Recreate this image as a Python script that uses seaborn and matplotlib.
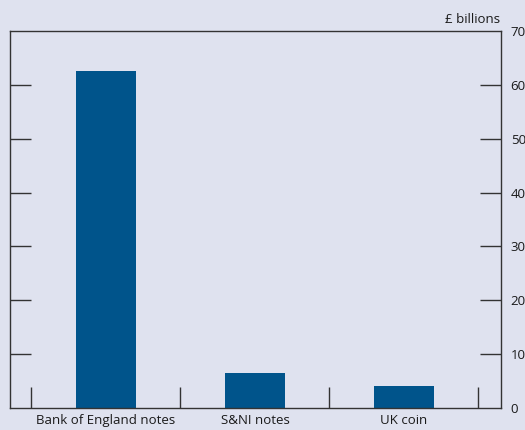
import pandas as pd
import numpy as np
import seaborn as sns
import matplotlib.pyplot as plt

# values (£ billions)
categories = ["Bank of England notes", "S&NI notes", "UK coin"]
values = [62.6, 6.5, 4.1]
y_ticks = [0, 10, 20, 30, 40, 50, 60, 70]

bg = "#dfe2ef"
bar_col = "#00548b"
line_col = "#333333"

sns.set_style("white", {"axes.facecolor": bg, "figure.facecolor": bg,
                        "axes.edgecolor": line_col})
plt.rcParams["font.family"] = ["Open Sans", "DejaVu Sans"]

df = pd.DataFrame({"category": categories, "value": values})

fig = plt.figure(figsize=(5.25, 4.3), dpi=100)
ax = fig.add_axes([10 / 525, 22 / 430, 491 / 525, 377 / 430])

sns.barplot(data=df, x="category", y="value", color=bar_col, width=0.4,
            saturation=1, linewidth=0, ax=ax)

ax.set_xlim(-0.644, 2.651)
ax.set_ylim(0, 70)
ax.set_xlabel("")
ax.set_ylabel("")

# y axis: labels on the right, inward ticks on both sides
ax.yaxis.tick_right()
ax.set_yticks(y_ticks)
ax.set_yticklabels([str(t) for t in y_ticks])
ax.tick_params(axis="y", which="major", direction="in", length=15, width=1,
               color=line_col, left=True, right=True, labelleft=False,
               labelright=True, labelsize=9.5, labelcolor="#1a1a1a", pad=7)
# hide the tick marks at 0 and 70
for t in [ax.yaxis.get_major_ticks()[0], ax.yaxis.get_major_ticks()[-1]]:
    t.tick1line.set_visible(False)
    t.tick2line.set_visible(False)

# x axis: category labels without ticks, inward ticks between groups
ax.set_xticks(range(len(categories)))
ax.set_xticklabels(categories)
ax.tick_params(axis="x", which="major", length=0, labelsize=9.5,
               labelcolor="#1a1a1a", pad=4)
ax.set_xticks(np.arange(-0.5, len(categories), 1.0), minor=True)
ax.tick_params(axis="x", which="minor", direction="in", length=15, width=1,
               color=line_col, bottom=True, top=False)

for s in ax.spines.values():
    s.set_visible(True)
    s.set_color(line_col)
    s.set_linewidth(1)

fig.text(500 / 525, 1 - 23 / 430, "£ billions", ha="right", va="baseline",
         fontsize=9.5, color="#1a1a1a")

fig.savefig("out.png", dpi=100, facecolor=bg)
